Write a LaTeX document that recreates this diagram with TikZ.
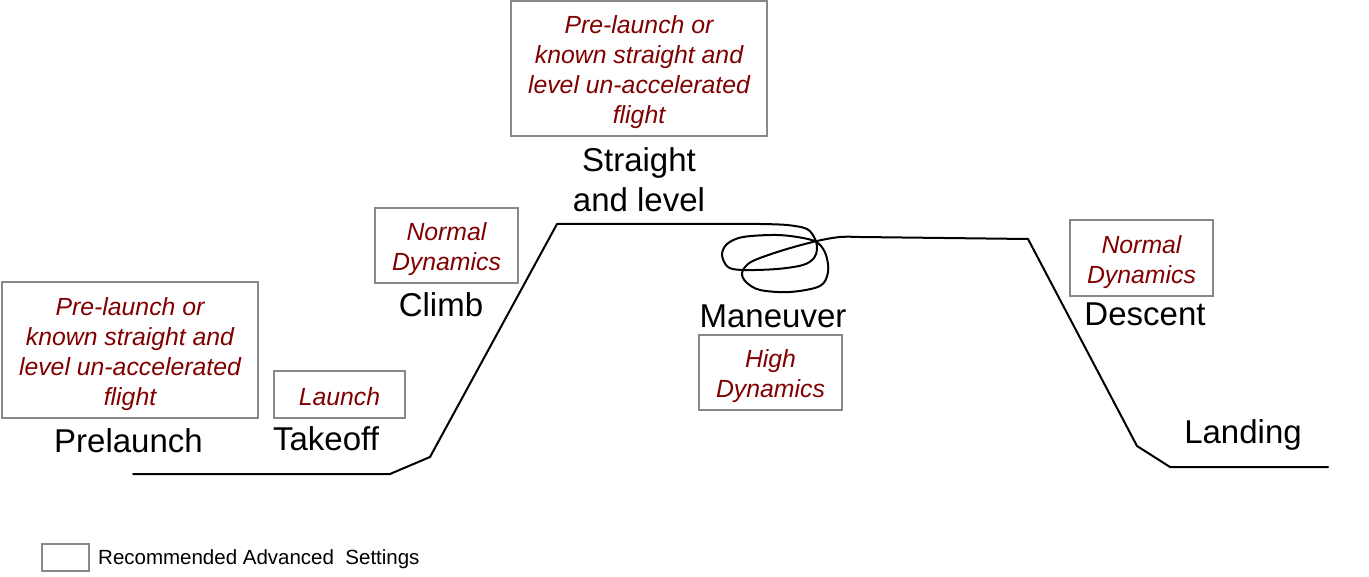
\documentclass[tikz,border=0pt]{standalone}
\usepackage{fontspec}
\setmainfont{Liberation Sans}
\definecolor{boxgray}{RGB}{136,136,136}
\definecolor{darkred}{RGB}{128,0,0}
\begin{document}
\begin{tikzpicture}[x=1pt,y=-1pt,
  setbox/.style={draw=boxgray,line width=2pt,inner sep=0pt},
  settext/.style={inner sep=0pt,align=center,yshift=-4pt,
    text=darkred,font=\fontsize{24.8}{30}\selectfont\itshape},
  phase/.style={font=\fontsize{33}{40}\selectfont,inner sep=0pt,anchor=base,align=center},
  flight/.style={line width=2pt,line join=round,line cap=round}]
\useasboundingbox (0,0) rectangle (1369,577);
% settings boxes
\node[setbox,minimum width=256,minimum height=136] (bpre) at (130,350) {};
\node[settext] (tpre) at (bpre.center)
  {Pre-launch or\\known straight and\\level un-accelerated\\flight};
\node[setbox,minimum width=131,minimum height=47] (blaunch) at (339.5,394.5) {};
\node[settext,yshift=2pt] (tlaunch) at (blaunch.center) {Launch};
\node[setbox,minimum width=143,minimum height=75] (bclimb) at (446.5,245.5) {};
\node[settext] (tclimb) at (bclimb.center) {Normal\\Dynamics};
\node[setbox,minimum width=256,minimum height=135] (bsl) at (639,68.5) {};
\node[settext] (tsl) at (bsl.center)
  {Pre-launch or\\known straight and\\level un-accelerated\\flight};
\node[setbox,minimum width=143,minimum height=75] (bman) at (770.5,372.5) {};
\node[settext] (tman) at (bman.center) {High\\Dynamics};
\node[setbox,minimum width=143,minimum height=76] (bdesc) at (1141.5,258) {};
\node[settext] (tdesc) at (bdesc.center) {Normal\\Dynamics};
% phase labels
\node[phase] (lpre) at (128.5,453) {Prelaunch};
\node[phase] (ltake) at (326,450) {Takeoff};
\node[phase] (lclimb) at (441,317) {Climb};
\node[phase] (lsl1) at (639,172) {Straight};
\node[phase] (lsl2) at (639,212) {and level};
\node[phase] (lman) at (773,328) {Maneuver};
\node[phase] (ldesc) at (1145,326) {Descent};
\node[phase] (lland) at (1243,443) {Landing};
% flight path
\draw[flight] (133,474) -- (390,474) -- (430,457) -- (557,224) -- (760,224)
  plot[smooth,tension=0.55] coordinates {(760,224) (787,225) (807,229) (815,239) (817,249)
    (814,258) (803,265) (777,269) (743,270) (728,267) (722,255) (727,244) (743,237)
    (777,235) (803,238) (818,243) (826,255) (828,272) (820,286) (790,292) (760,290)
    (746,282) (742,273) (748,264) (760,258) (787,249) (817,241) (840,237) (860,237)}
  -- (1028,239) -- (1137,446) -- (1170,467) -- (1328,467);
% legend
\node[draw=boxgray,line width=2pt,minimum width=47,minimum height=27,inner sep=0pt] (leg) at (65.5,557.5) {};
\node[font=\fontsize{20.5}{24}\selectfont,anchor=base west,inner sep=0pt] (legtext) at (98,564.5)
  {Recommended Advanced\ \ Settings};
\end{tikzpicture}
\end{document}
